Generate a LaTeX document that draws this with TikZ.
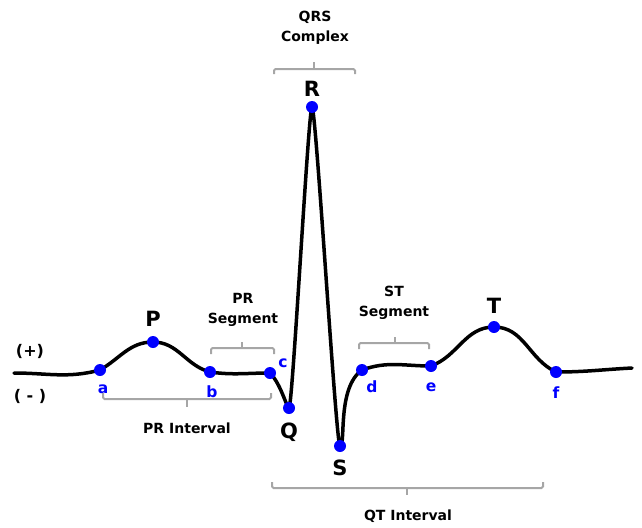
\documentclass[tikz,border=0pt]{standalone}
\usepackage{fontspec}
\setmainfont{DejaVu Sans}
\usepackage{xcolor}
\usetikzlibrary{positioning, backgrounds}
\definecolor{bracegray}{HTML}{A6A6A6}

\begin{document}
\begin{tikzpicture}[
    x=1pt, y=1pt,
    dot/.style={circle, fill=blue, inner sep=0pt, minimum size=12pt},
    wave/.style={inner sep=0pt, font=\bfseries\fontsize{21}{24}\selectfont},
    letter/.style={inner sep=0pt, text=blue, font=\bfseries\fontsize{15.5}{18}\selectfont},
    tag/.style={align=center, inner sep=0pt, font=\bfseries\fontsize{14}{20}\selectfont},
    brace/.style={draw=bracegray, line width=2pt, rounded corners=1.5pt},
    trace/.style={line width=3.5pt, line join=round, line cap=round}
]
\useasboundingbox (0,0) rectangle (642,-527);

% Points on the trace
\coordinate (lead0) at (14,-373);
\node[dot] (a) at (100,-370) {};
\node[dot] (P) at (153,-342) {};
\node[dot] (b) at (210,-372) {};
\node[dot] (c) at (270,-373) {};
\node[dot] (Q) at (289,-408) {};
\node[dot] (R) at (312,-107) {};
\node[dot] (S) at (340,-446) {};
\node[dot] (d) at (362,-370) {};
\node[dot] (e) at (431,-366) {};
\node[dot] (T) at (494,-327) {};
\node[dot] (f) at (556,-372) {};
\coordinate (lead1) at (632,-368);

% Trace
\begin{scope}[on background layer]
\draw[trace] (lead0) to[out=0,in=195] (a.center) to[out=30,in=180] (P.center)
    to[out=0,in=165] (b.center) to[out=-8,in=180] (c.center)
    to[out=-45,in=180,in looseness=0.15] (Q.center)
    to[out=0,out looseness=0.03,in=180,in looseness=0.03] (R.center)
    to[out=0,out looseness=0.03,in=180,in looseness=0.03] (S.center)
    to[out=0,out looseness=0.2,in=215] (d.center)
    to[out=20,in=180] (e.center) to[out=20,in=180] (T.center)
    to[out=0,in=155] (f.center) to[out=0,in=183] (lead1);
\end{scope}

% Wave names
\node[wave, above=9pt of P] (lblP) {P};
\node[wave, above=4pt of R] (lblR) {R};
\node[wave, below=9pt of Q] (lblQ) {Q};
\node[wave, below=8pt of S] (lblS) {S};
\node[wave, above=7pt of T] (lblT) {T};

% Point names
\node[letter, below=8pt of a, xshift=3pt] (lbla) {a};
\node[letter, below=7pt of b, xshift=2pt] (lblb) {b};
\node[letter] (lblc) at (283,-363) {c};
\node[letter] (lbld) at (372,-387) {d};
\node[letter, below=10pt of e] (lble) {e};
\node[letter, below=8pt of f] (lblf) {f};

% Polarity
\node[tag, font=\bfseries\fontsize{16}{20}\selectfont] (plus) at (30,-351) {(+)};
\node[tag, font=\bfseries\fontsize{16}{20}\selectfont] (minus) at (30,-396) {( - )};

% Brackets
\draw[brace] (274,-74) -- (274,-69) -- (355,-69) -- (355,-74);
\draw[brace] (314,-69) -- (314,-62);
\draw[brace] (211,-354) -- (211,-348) -- (274,-348) -- (274,-354);
\draw[brace] (242,-348) -- (242,-342);
\draw[brace] (103,-393) -- (103,-399) -- (271,-399) -- (271,-393);
\draw[brace] (187,-399) -- (187,-407);
\draw[brace] (359,-349) -- (359,-343) -- (429,-343) -- (429,-349);
\draw[brace] (395,-343) -- (395,-337);
\draw[brace] (272,-482) -- (272,-488) -- (543,-488) -- (543,-482);
\draw[brace] (407,-488) -- (407,-495);

% Bracket names
\node[tag] (qrs) at (315,-28) {QRS\\Complex};
\node[tag] (prseg) at (243,-310) {PR\\Segment};
\node[tag] (stseg) at (394,-303) {ST\\Segment};
\node[tag] (print) at (187,-428) {PR Interval};
\node[tag] (qtint) at (408,-516) {QT Interval};

\end{tikzpicture}
\end{document}
